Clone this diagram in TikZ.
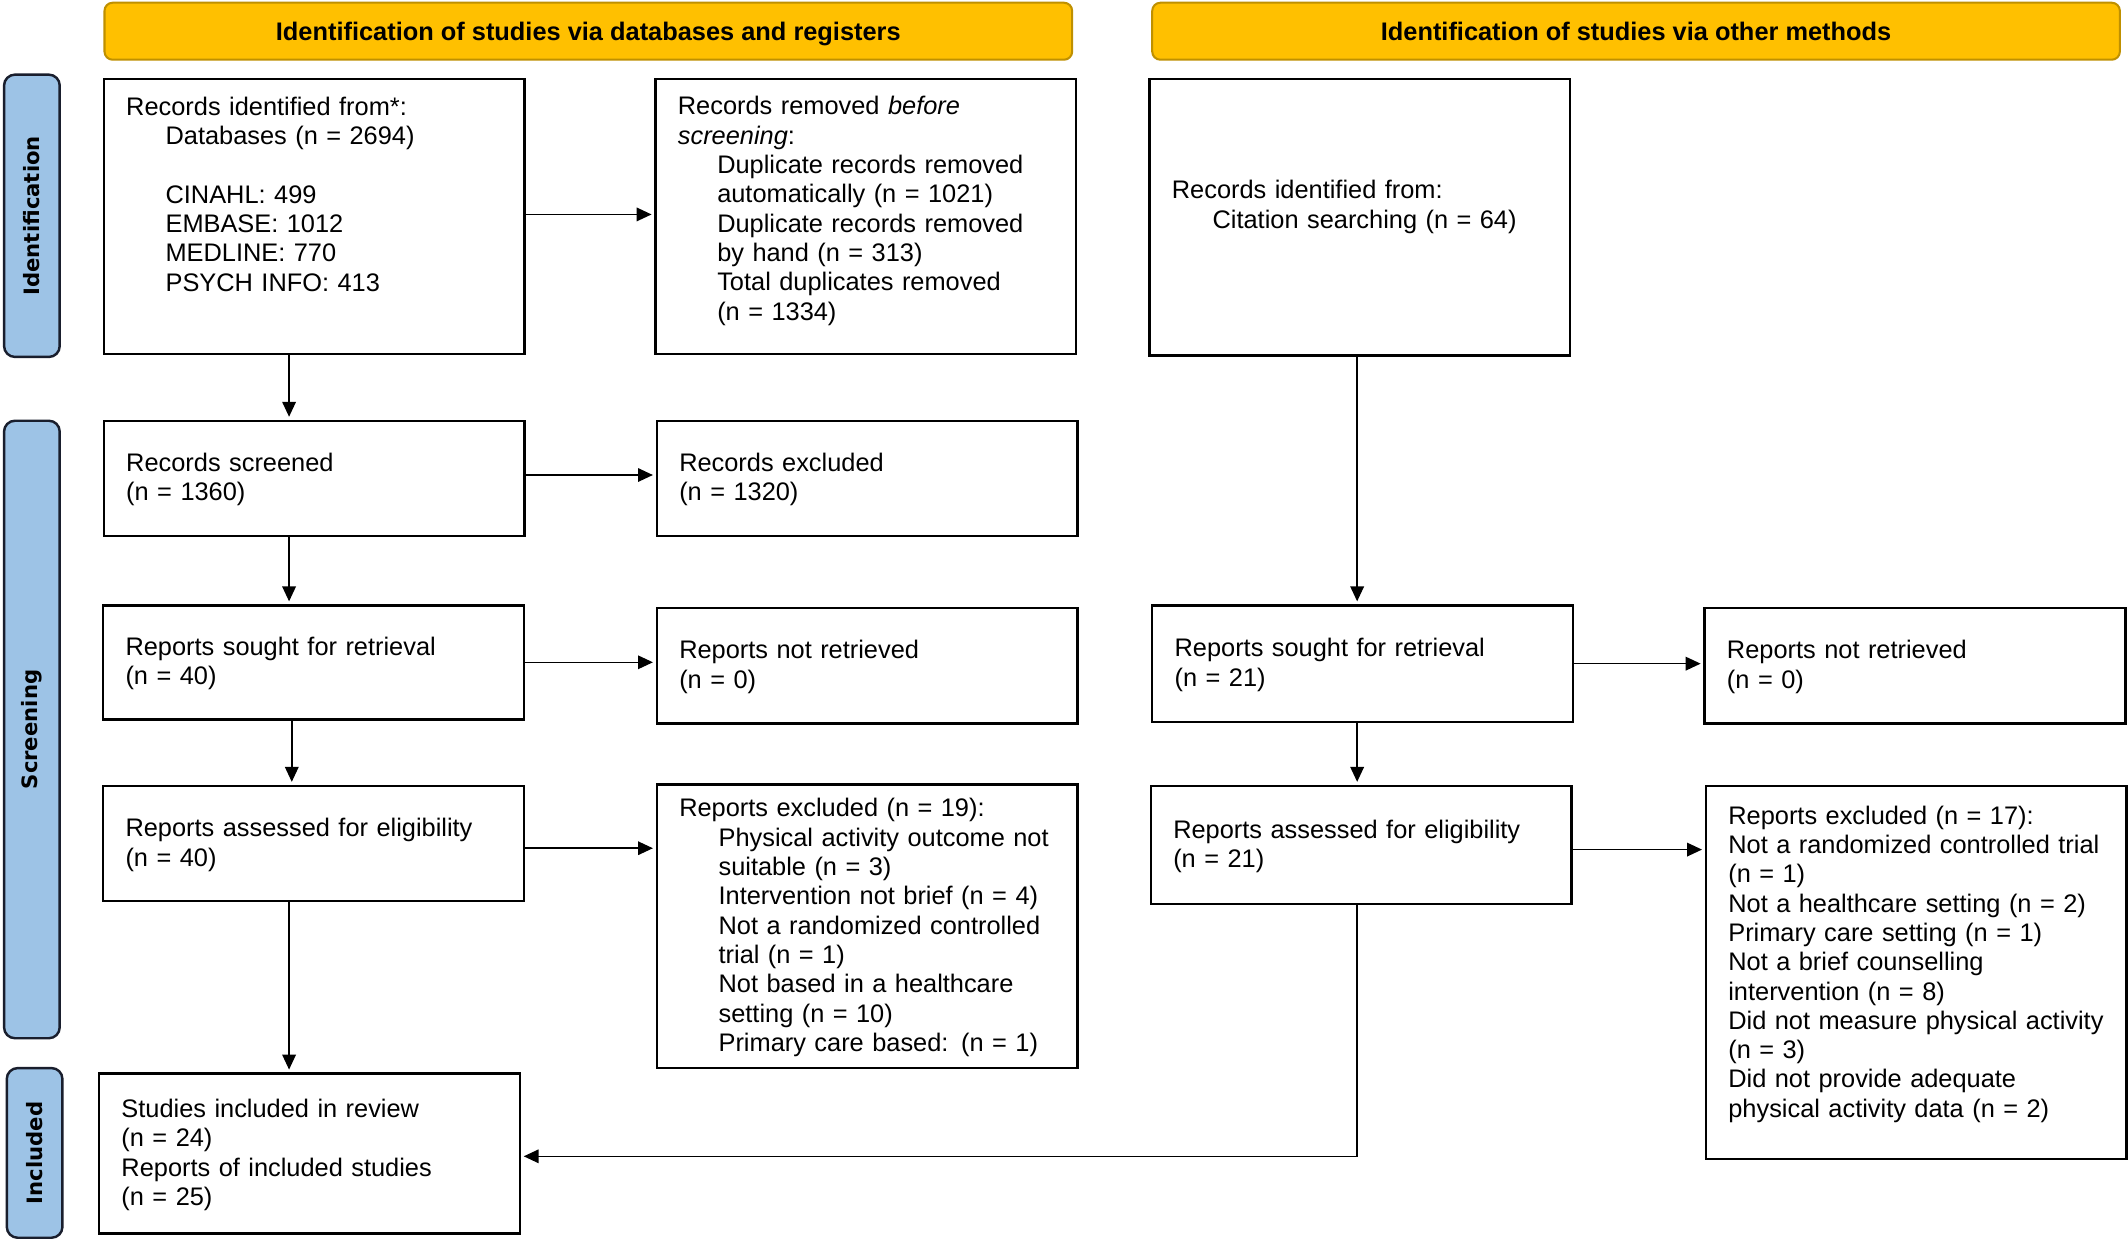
\documentclass[tikz,border=0pt]{standalone}
\usepackage{fontspec}
\setmainfont{Liberation Sans}
\newfontfamily\sidefont{DejaVu Sans}
\usetikzlibrary{arrows.meta}
\definecolor{hdrfill}{RGB}{255,192,0}
\definecolor{hdrdraw}{RGB}{191,144,0}
\definecolor{sidefill}{RGB}{157,195,230}
\definecolor{sidedraw}{RGB}{25,30,45}
\newcommand\fs{\fontsize{18.7pt}{21.6pt}\selectfont}
\newcommand\lowpad[1]{\rule[-#1]{0pt}{#1}}
\newcommand\ind{\hspace*{29pt}}
\begin{document}
\begin{tikzpicture}[x=1pt,y=-1pt,
  box/.style={draw=black, line width=1.8pt, fill=white, inner xsep=16.5pt, inner ysep=3pt, text width=277pt, align=left, font=\fs, minimum width=310pt, execute at begin node={\rule{0pt}{15.5pt}}},
  hdr/.style={draw=hdrdraw, line width=1.5pt, fill=hdrfill, rounded corners=6pt, minimum width=713pt, minimum height=42pt, font=\fs\bfseries, inner sep=0pt, text height=17.5pt, text depth=4pt},
  side/.style={draw=sidedraw, line width=1.8pt, fill=sidefill, rounded corners=8pt, font=\sidefont\fontsize{15.6pt}{18pt}\selectfont\bfseries, inner sep=0pt, rotate=90},
  arr/.style={line width=1.1pt, -{Triangle[length=11pt,width=10pt]}, shorten >=2pt},
  lin/.style={line width=1.1pt}]
\useasboundingbox (0,0) rectangle (1568,914);
\fill[white] (0,0) rectangle (1568,914);

% headers
\node[hdr] (h1) at (433.5,23) {Identification of studies via databases and registers};
\node[hdr] (h2) at (1205.5,23) {Identification of studies via other methods};

% side bars
\node[side, minimum width=208pt, minimum height=41pt] (s1) at (23.5,159) {Identification};
\node[side, minimum width=455pt, minimum height=41pt] (s2) at (23.5,537.5) {Screening};
\node[side, minimum width=125pt, minimum height=41pt] (s3) at (25.5,849.5) {Included};

% boxes
\node[box, minimum height=203pt] (A) at (231.5,159.5) {Records identified from*:\\ \ind Databases (n = 2694)\\[21.6pt] \ind CINAHL: 499\\ \ind EMBASE: 1012\\ \ind MEDLINE: 770\\ \ind PSYCH INFO: 413\lowpad{35pt}};
\node[box, minimum height=203pt] (B) at (638,159.5) {Records removed \textit{before}\\ \textit{screening}:\\ \ind Duplicate records removed\\ \ind automatically (n = 1021)\\ \ind Duplicate records removed\\ \ind by hand (n = 313)\\ \ind Total duplicates removed\\ \ind (n = 1334)\lowpad{14pt}};
\node[box, minimum height=204pt] (C) at (1002,160) {Records identified from:\\ \hspace*{30pt}Citation searching (n = 64)\lowpad{21pt}};

\node[box, minimum height=85pt] (D) at (231.5,352.5) {Records screened\\ (n = 1360)};
\node[box, minimum height=85pt] (E) at (639,352.5) {Records excluded\\ (n = 1320)};
\node[box, minimum height=84pt] (F) at (231,488) {Reports sought for retrieval\\ (n = 40)};
\node[box, minimum height=85pt] (G) at (639,490.5) {Reports not retrieved\\ (n = 0)};
\node[box, minimum height=85pt] (H) at (231,621.5) {Reports assessed for eligibility\\ (n = 40)};
\node[box, minimum height=209pt] (I) at (639,682.5) {Reports excluded (n = 19):\\ \ind Physical activity outcome not\\ \ind suitable (n = 3)\\ \ind Intervention not brief (n = 4)\\ \ind Not a randomized controlled\\ \ind trial (n = 1)\\ \ind Not based in a healthcare\\ \ind setting (n = 10)\\ \ind Primary care based: (n = 1)};
\node[box, minimum height=118pt] (J) at (228,850) {Studies included in review\\ (n = 24)\\ Reports of included studies\\ (n = 25)};

\node[box, minimum height=86pt] (K) at (1004,489) {Reports sought for retrieval\\ (n = 21)};
\node[box, minimum height=85pt] (L) at (1411,490.5) {Reports not retrieved\\ (n = 0)};
\node[box, minimum height=87pt] (M) at (1003,622.5) {Reports assessed for eligibility\\ (n = 21)};
\node[box, minimum height=275pt] (N) at (1412,716.5) {Reports excluded (n = 17):\\ Not a randomized controlled trial\\ (n = 1)\\ Not a healthcare setting (n = 2)\\ Primary care setting (n = 1)\\ Not a brief counselling\\ intervention (n = 8)\\ Did not measure physical activity\\ (n = 3)\\ Did not provide adequate\\ physical activity data (n = 2)\lowpad{18pt}};

% connectors
\draw[arr] ([yshift=1.5pt]A.east) -- ([yshift=1.5pt]A.east -| B.west);
\draw[arr] ([xshift=-18.5pt]A.south) -- ([xshift=-18.5pt]A.south |- D.north);
\draw[arr] ([yshift=2.5pt]D.east) -- ([yshift=2.5pt]D.east -| E.west);
\draw[arr] ([xshift=-18.5pt]D.south) -- ([xshift=-18.5pt]D.south |- F.north);
\draw[arr] (F.east) -- (F.east -| G.west);
\draw[arr] ([xshift=-16pt]F.south) -- ([xshift=-16pt]F.south |- H.north);
\draw[arr] ([yshift=-3.5pt]H.east) -- ([yshift=-3.5pt]H.east -| I.west);
\draw[arr] ([xshift=-18pt]H.south) -- ([xshift=-18pt]H.south |- J.north);
\draw[arr] ([xshift=-2pt]C.south) -- ([xshift=-2pt]C.south |- K.north);
\draw[arr] (K.east) -- (K.east -| L.west);
\draw[arr] ([xshift=-4pt]K.south) -- ([xshift=-4pt]K.south |- M.north);
\draw[arr] ([yshift=-3.5pt]M.east) -- ([yshift=-3.5pt]M.east -| N.west);
\draw[arr] ([xshift=-3pt]M.south) |- ([yshift=-2pt]J.east);
\end{tikzpicture}
\end{document}
